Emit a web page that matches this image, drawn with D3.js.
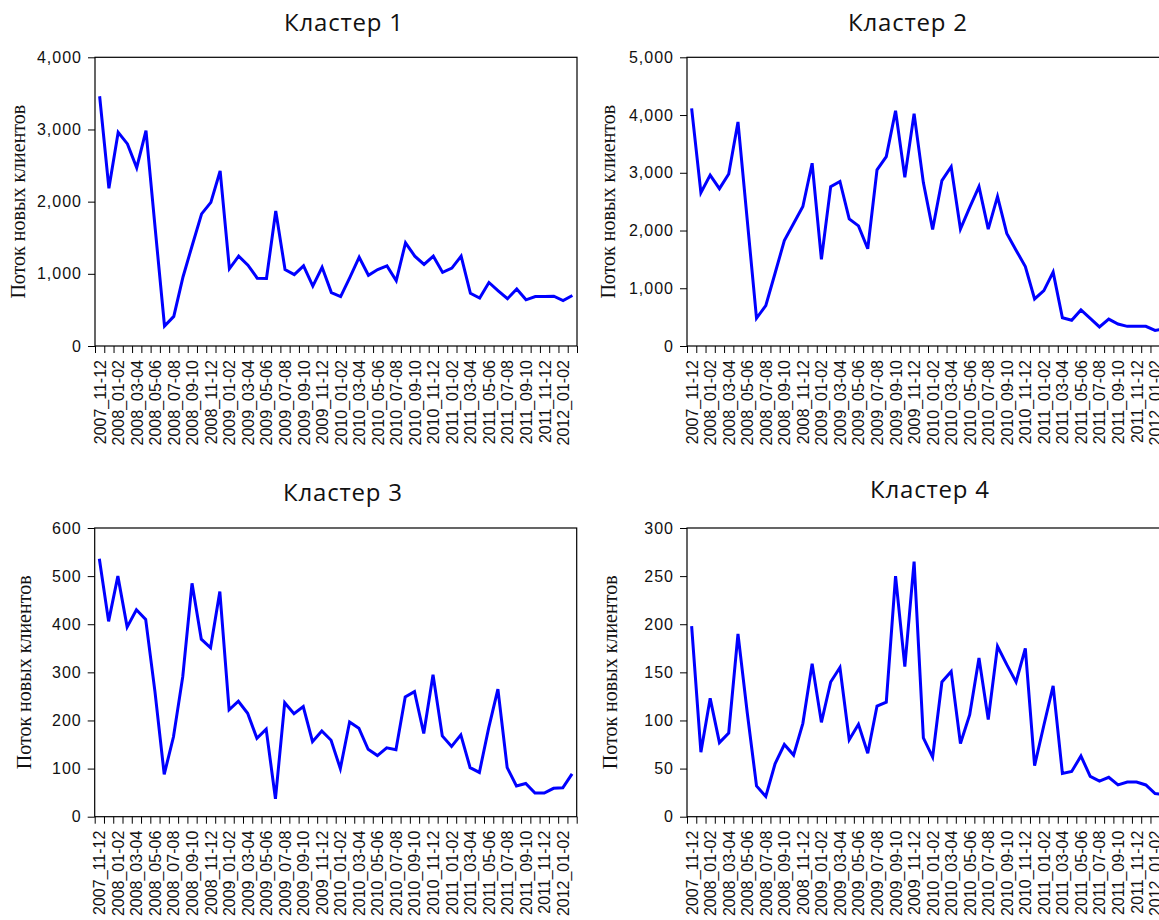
<!DOCTYPE html>
<html><head><meta charset="utf-8">
<script src="https://cdn.jsdelivr.net/npm/d3@7"></script>
<style>body{margin:0;background:#fff;overflow:hidden} svg{display:block}</style>
</head><body><svg id="c" width="1159" height="920"></svg>
<script>
// Tick labels (one every second observation)
const tickLabels = ["2007_11-12","2008_01-02","2008_03-04","2008_05-06","2008_07-08","2008_09-10","2008_11-12",
  "2009_01-02","2009_03-04","2009_05-06","2009_07-08","2009_09-10","2009_11-12",
  "2010_01-02","2010_03-04","2010_05-06","2010_07-08","2010_09-10","2010_11-12",
  "2011_01-02","2011_03-04","2011_05-06","2011_07-08","2011_09-10","2011_11-12","2012_01-02"];

const cluster1 = [3460,2185,2960,2800,2470,2985,1620,275,410,960,1400,1830,1990,2425,1070,1245,1120,940,935,1870,
  1060,990,1110,830,1090,740,685,950,1230,980,1060,1110,905,1430,1245,1130,1245,1020,1080,1245,
  730,665,880,765,655,790,640,685,685,690,630,700];
const cluster2 = [4115,2655,2960,2725,2980,3880,2180,480,700,1260,1825,2120,2415,3165,1500,2760,2850,2200,2080,1685,
  3050,3280,4075,2920,4025,2830,2020,2865,3105,2025,2400,2760,2025,2590,1950,1660,1375,815,960,1280,
  490,445,625,480,330,465,380,340,340,340,270,300];
const cluster3 = [536,406,500,394,430,410,260,88,166,291,485,369,351,468,222,240,215,163,182,37,
  237,214,229,156,178,159,100,197,184,140,127,143,139,249,260,173,295,168,146,170,
  102,92,184,265,102,64,69,49,49,59,60,89];
const cluster4 = [198,67,123,77,87,190,108,32,21,55,75,64,97,159,98,140,155,80,96,66,
  115,119,250,156,265,82,62,140,151,76,106,165,101,177,158,140,175,53,95,136,
  45,47,63,42,37,41,33,36,36,33,24,23];

const titles = ["Кластер 1","Кластер 2","Кластер 3","Кластер 4"];
const yMax = [4000,5000,600,300];
const yStep = [1000,1000,100,50];
const yTitle = "Поток новых клиентов";
const series = [cluster1, cluster2, cluster3, cluster4];

// layout
const layout = [
  {left:95, top:57.3, titleX:344, titleY:31, yTitleX:18},
  {left:687, top:57.3, titleX:908, titleY:31, yTitleX:608},
  {left:94.7, top:528, titleX:343, titleY:501, yTitleX:24},
  {left:687, top:528, titleX:930, titleY:498, yTitleX:610}
];
const W = 482, H = 288.7;

const svg = d3.select("#c");
const n = cluster1.length;

series.forEach((vals, p) => {
  const L = layout[p];
  const g = svg.append("g").attr("transform", `translate(${L.left},${L.top})`);
  const x = d3.scaleLinear().domain([-0.5, n - 0.5]).range([0, W]);
  const y = d3.scaleLinear().domain([0, yMax[p]]).range([H, 0]);

  // y axis
  const ya = g.append("g").call(d3.axisLeft(y)
      .tickValues(d3.range(0, yMax[p] + yStep[p], yStep[p]))
      .tickFormat(d3.format(","))
      .tickSize(7).tickPadding(6));
  ya.select(".domain").remove();
  ya.selectAll("line").attr("stroke", "#000");
  ya.selectAll("text").attr("font-family", "'Liberation Sans', Arial, sans-serif")
    .attr("font-size", 16).attr("letter-spacing", "1px").attr("fill", "#111");

  // x ticks at boundaries
  const xt = g.append("g").attr("transform", `translate(0,${H})`)
    .call(d3.axisBottom(x).tickValues(d3.range(n + 1).map(i => i - 0.5)).tickFormat("").tickSize(7));
  xt.select(".domain").remove();
  xt.selectAll("line").attr("stroke", "#000");

  // x labels at every second observation
  const xl = g.append("g").attr("transform", `translate(0,${H})`)
    .call(d3.axisBottom(x).tickValues(d3.range(0, n, 2)).tickFormat(i => tickLabels[i / 2]).tickSize(0));
  xl.select(".domain").remove();
  xl.selectAll("text")
    .attr("font-family", "'Liberation Sans', Arial, sans-serif")
    .attr("font-size", 16).attr("fill", "#111")
    .attr("text-anchor", "end")
    .attr("dominant-baseline", "central")
    .attr("y", 0).attr("dy", 0)
    .attr("transform", "translate(0,14) rotate(-90)");

  // line
  const line = d3.line().x((d, i) => x(i)).y(d => y(d));
  g.append("path").datum(vals).attr("d", line)
    .attr("fill", "none").attr("stroke", "#0000ff").attr("stroke-width", 3)
    .attr("stroke-linejoin", "miter");

  // frame
  g.append("rect").attr("x", 0).attr("y", 0).attr("width", W).attr("height", H)
    .attr("fill", "none").attr("stroke", "#000").attr("stroke-width", 1.2);

  // titles
  svg.append("text").attr("x", L.titleX).attr("y", L.titleY)
    .attr("text-anchor", "middle")
    .attr("font-family", "'Open Sans', 'Noto Sans', sans-serif")
    .attr("font-size", 24).attr("letter-spacing", "0.8px").attr("fill", "#111").text(titles[p]);

  svg.append("text")
    .attr("transform", `translate(${L.yTitleX},${L.top + H / 2}) rotate(-90)`)
    .attr("text-anchor", "middle").attr("dominant-baseline", "central")
    .attr("font-family", "'Liberation Serif', 'Times New Roman', serif")
    .attr("font-size", 20).attr("fill", "#111").text(yTitle);
});
</script>
</body></html>
